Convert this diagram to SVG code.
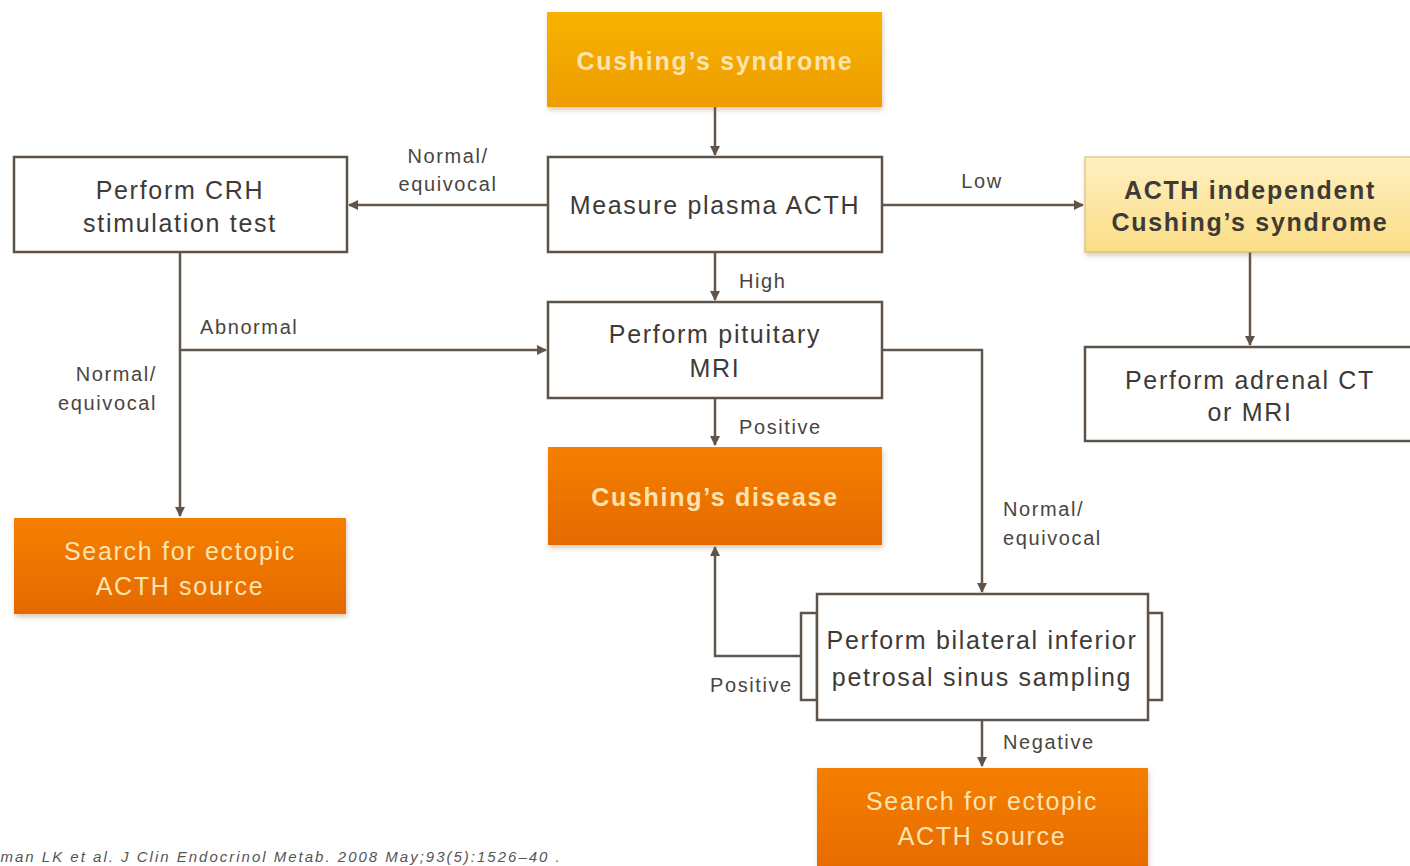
<svg xmlns="http://www.w3.org/2000/svg" width="1410" height="866" viewBox="0 0 1410 866">
<defs>
<linearGradient id="gGold" x1="0" y1="0" x2="0" y2="1">
<stop offset="0" stop-color="#F7B300"/>
<stop offset="1" stop-color="#EE9C00"/>
</linearGradient>
<linearGradient id="gOrange" x1="0" y1="0" x2="0" y2="1">
<stop offset="0" stop-color="#F57F00"/>
<stop offset="1" stop-color="#E56A00"/>
</linearGradient>
<linearGradient id="gPale" x1="0" y1="0" x2="0" y2="1">
<stop offset="0" stop-color="#FEF0C0"/>
<stop offset="1" stop-color="#FBDD86"/>
</linearGradient>
<filter id="sh" x="-5%" y="-10%" width="110%" height="125%">
<feDropShadow dx="1" dy="3" stdDeviation="2.5" flood-color="#8a6a40" flood-opacity="0.35"/>
</filter>
<marker id="arr" viewBox="0 0 10 10" refX="9" refY="5" markerWidth="4" markerHeight="4" orient="auto" markerUnits="strokeWidth">
<path d="M0,0 L10,5 L0,10 z" fill="#5f544b"/>
</marker>
</defs>
<style>
.box{fill:#ffffff;stroke:#5d534a;stroke-width:2.5}
.gold{fill:url(#gGold);filter:url(#sh)}
.orange{fill:url(#gOrange);filter:url(#sh)}
.pale{fill:url(#gPale);stroke:#d9b860;stroke-width:1;filter:url(#sh)}
.t{font-family:"Liberation Sans",Arial,sans-serif;font-size:25px;letter-spacing:1.7px;fill:#3e3a36;text-anchor:middle}
.tw{font-family:"Liberation Sans",Arial,sans-serif;font-size:25px;letter-spacing:1.7px;fill:#FCE3B0;text-anchor:middle}
.tb{font-weight:bold}
.lab{font-family:"Liberation Sans",Arial,sans-serif;font-size:20px;letter-spacing:1.6px;fill:#4a4540}
.conn{fill:none;stroke:#62574e;stroke-width:2.5}
.cite{font-family:"Liberation Sans",Arial,sans-serif;font-size:15px;letter-spacing:2px;font-style:italic;fill:#555}
</style>
<rect width="1410" height="866" fill="#ffffff"/>

<g id="connectors">
<path class="conn" d="M715,107 V155" marker-end="url(#arr)"/>
<path class="conn" d="M548,205 H349" marker-end="url(#arr)"/>
<path class="conn" d="M882,205 H1083" marker-end="url(#arr)"/>
<path class="conn" d="M1250,252 V345" marker-end="url(#arr)"/>
<path class="conn" d="M715,252 V300" marker-end="url(#arr)"/>
<path class="conn" d="M180,252 V516" marker-end="url(#arr)"/>
<path class="conn" d="M180,350 H546" marker-end="url(#arr)"/>
<path class="conn" d="M715,398 V445" marker-end="url(#arr)"/>
<path class="conn" d="M882,350 H982 V592" marker-end="url(#arr)"/>
<path class="conn" d="M801,656 H715 V547" marker-end="url(#arr)"/>
<path class="conn" d="M982,720 V766" marker-end="url(#arr)"/>
<text class="lab" x="448" y="163" text-anchor="middle">Normal/</text>
<text class="lab" x="448" y="191" text-anchor="middle">equivocal</text>
<text class="lab" x="982" y="188" text-anchor="middle">Low</text>
<text class="lab" x="739" y="288">High</text>
<text class="lab" x="200" y="334">Abnormal</text>
<text class="lab" x="157" y="381" text-anchor="end">Normal/</text>
<text class="lab" x="157" y="410" text-anchor="end">equivocal</text>
<text class="lab" x="739" y="434">Positive</text>
<text class="lab" x="1003" y="516">Normal/</text>
<text class="lab" x="1003" y="545">equivocal</text>
<text class="lab" x="710" y="692">Positive</text>
<text class="lab" x="1003" y="749">Negative</text>
</g>

<g id="n-cushings-syndrome">
<rect class="gold" x="547" y="12" width="335" height="95"/>
<text class="tw tb" x="715" y="70">Cushing’s syndrome</text>
</g>

<g id="n-measure-acth">
<rect class="box" x="548" y="157" width="334" height="95"/>
<text class="t" x="715" y="214">Measure plasma ACTH</text>
</g>

<g id="n-crh">
<rect class="box" x="14" y="157" width="333" height="95"/>
<text class="t" x="180" y="199">Perform CRH</text>
<text class="t" x="180" y="232">stimulation test</text>
</g>

<g id="n-acth-independent">
<rect class="pale" x="1085" y="157" width="335" height="95"/>
<text class="t tb" x="1250" y="199" fill="#2e2a26">ACTH independent</text>
<text class="t tb" x="1250" y="231" fill="#2e2a26">Cushing’s syndrome</text>
</g>

<g id="n-adrenal-ct">
<rect class="box" x="1085" y="347" width="335" height="94"/>
<text class="t" x="1250" y="389">Perform adrenal CT</text>
<text class="t" x="1250" y="421">or MRI</text>
</g>

<g id="n-pituitary-mri">
<rect class="box" x="548" y="302" width="334" height="96"/>
<text class="t" x="715" y="343">Perform pituitary</text>
<text class="t" x="715" y="377">MRI</text>
</g>

<g id="n-search-left">
<rect class="orange" x="14" y="518" width="332" height="96"/>
<text class="tw" x="180" y="560">Search for ectopic</text>
<text class="tw" x="180" y="595">ACTH source</text>
</g>

<g id="n-cushings-disease">
<rect class="orange" x="548" y="447" width="334" height="98"/>
<text class="tw tb" x="715" y="506">Cushing’s disease</text>
</g>

<g id="n-bipss">
<rect class="box" x="801" y="613" width="16" height="87"/>
<rect class="box" x="1148" y="613" width="14" height="87"/>
<rect class="box" x="817" y="594" width="331" height="126"/>
<text class="t" x="982" y="649">Perform bilateral inferior</text>
<text class="t" x="982" y="686">petrosal sinus sampling</text>
</g>

<g id="n-search-bottom">
<rect class="orange" x="817" y="768" width="331" height="110"/>
<text class="tw" x="982" y="810">Search for ectopic</text>
<text class="tw" x="982" y="845">ACTH source</text>
</g>

<g id="citation">
<text class="cite" x="-28" y="862">Nieman LK et al. J Clin Endocrinol Metab. 2008 May;93(5):1526–40 .</text>
</g>
</svg>
